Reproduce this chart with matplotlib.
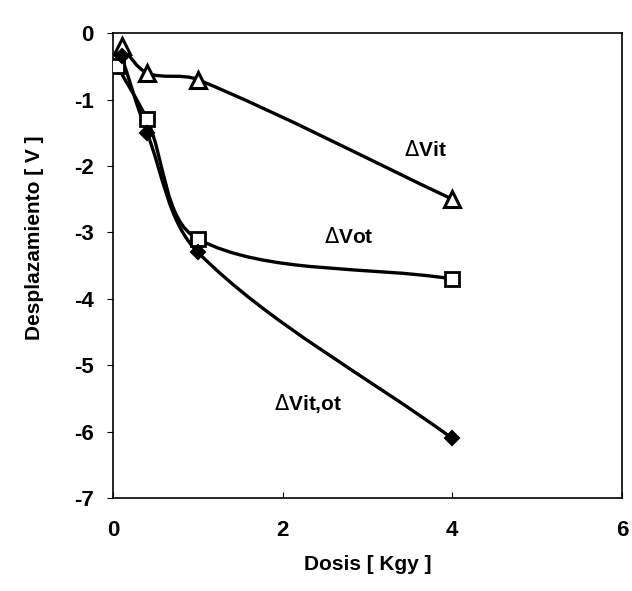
import matplotlib.pyplot as plt
import numpy as np
from matplotlib.path import Path
from matplotlib.patches import PathPatch

# Datos (Dosis en kGy, desplazamiento en V)
dosis_vit = np.array([0.1, 0.4, 1.0, 4.0])
vit = np.array([-0.2, -0.6, -0.7, -2.5])

dosis_vot = np.array([0.05, 0.4, 1.0, 4.0])
vot = np.array([-0.5, -1.3, -3.1, -3.7])

dosis_vitot = np.array([0.1, 0.4, 1.0, 4.0])
vitot = np.array([-0.35, -1.5, -3.3, -6.1])

plt.rcParams['font.family'] = ['Liberation Sans', 'DejaVu Sans']
plt.rcParams['axes.unicode_minus'] = False


def curva_suave(ax, x, y, lw=2.4):
    # curva suavizada tipo Excel (Bezier con tangentes escaladas por tramo)
    pts = np.column_stack([x, y])
    esc = np.array([84.0, 66.0])  # aprox. px por unidad, para medir tramos
    d = np.linalg.norm(np.diff(pts * esc, axis=0), axis=1)
    verts = [pts[0]]
    codes = [Path.MOVETO]
    n = len(pts)
    for i in range(n - 1):
        p1, p2 = pts[i], pts[i + 1]
        if i > 0:
            c1 = p1 + (p2 - pts[i - 1]) * d[i] / (d[i - 1] + d[i]) / 3
        else:
            c1 = p1 + (p2 - p1) / 3
        if i + 2 < n:
            c2 = p2 - (pts[i + 2] - p1) * d[i] / (d[i] + d[i + 1]) / 3
        else:
            c2 = p2 - (p2 - p1) / 3
        verts += [c1, c2, p2]
        codes += [Path.CURVE4] * 3
    ax.add_patch(PathPatch(Path(verts, codes), fill=False, lw=lw,
                           edgecolor='black', zorder=2))


fig = plt.figure(figsize=(6.32, 5.91), dpi=100)
ax = fig.add_axes([0.179, 0.157, 0.805, 0.787])

curva_suave(ax, dosis_vit, vit)
curva_suave(ax, dosis_vot, vot)
curva_suave(ax, dosis_vitot, vitot)

ax.plot(dosis_vit, vit, linestyle='none', marker='^', markersize=12,
        markerfacecolor='white', markeredgecolor='black', markeredgewidth=2.2, zorder=3)
ax.plot(dosis_vot, vot, linestyle='none', marker='s', markersize=10,
        markerfacecolor='white', markeredgecolor='black', markeredgewidth=2, zorder=3)
ax.plot(dosis_vitot, vitot, linestyle='none', marker='D', markersize=7,
        markerfacecolor='black', markeredgecolor='black', markeredgewidth=1.5, zorder=4)

ax.text(3.68, -1.76, r'$\Delta$Vit', fontsize=15, fontweight='bold', ha='center', va='center')
ax.text(2.78, -3.07, r'$\Delta$Vot', fontsize=15, fontweight='bold', ha='center', va='center')
ax.text(2.3, -5.57, r'$\Delta$Vit,ot', fontsize=15, fontweight='bold', ha='center', va='center')

ax.set_xlim(0, 6)
ax.set_ylim(-7, 0)
ax.set_xticks([0, 2, 4, 6])
ax.set_yticks(range(-7, 1))
ax.tick_params(axis='x', direction='in', length=4, pad=16, labelsize=16)
ax.tick_params(axis='y', direction='out', length=4, pad=10, labelsize=16)
for lab in ax.get_xticklabels() + ax.get_yticklabels():
    lab.set_fontweight('bold')
for s in ax.spines.values():
    s.set_linewidth(1.2)

ax.set_xlabel('Dosis [ Kgy ]', fontsize=15, fontweight='bold', labelpad=10)
ax.set_ylabel('Desplazamiento [ V ]', fontsize=15, fontweight='bold')
ax.yaxis.set_label_coords(-0.135, 0.56)

plt.savefig('out.png', dpi=100)
